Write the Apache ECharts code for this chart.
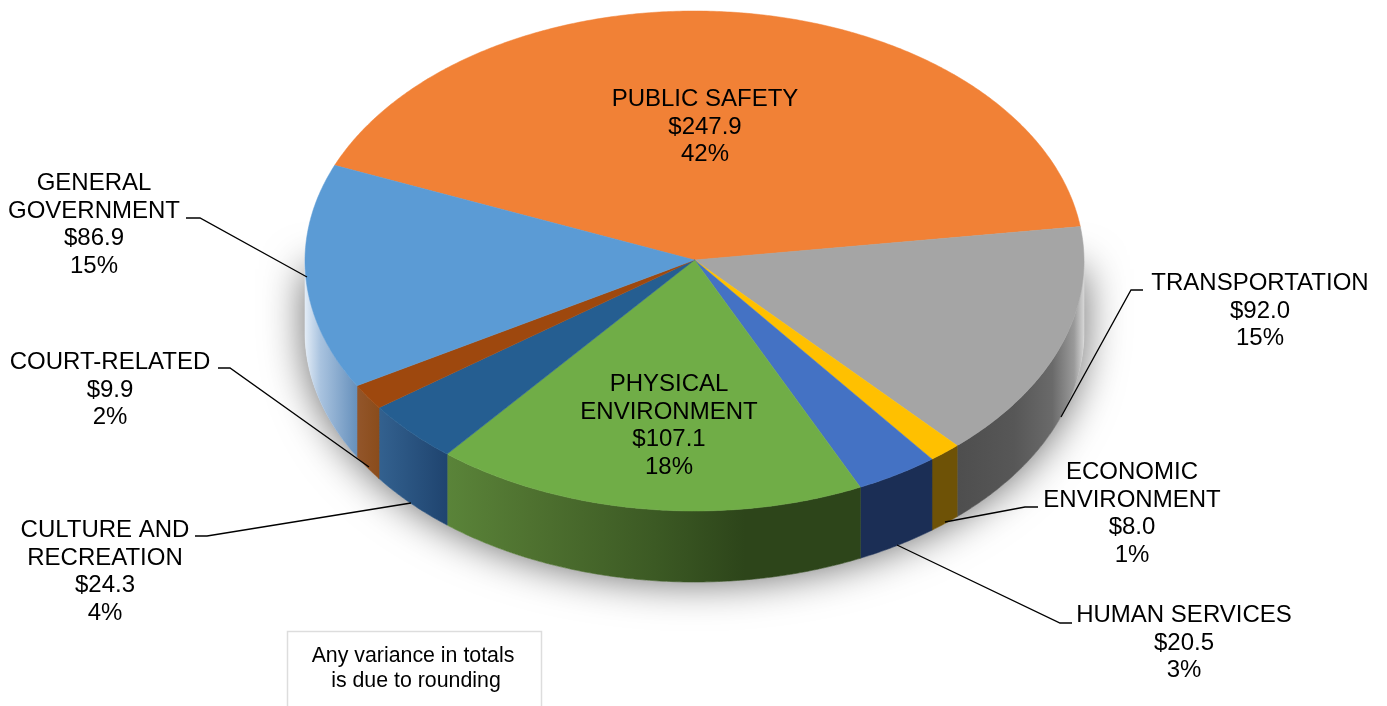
<!DOCTYPE html>
<html>
<head>
<meta charset="utf-8">
<style>html,body{margin:0;padding:0;background:#fff;overflow:hidden}#chart{width:1387px;height:706px}</style>
<script src="https://cdn.jsdelivr.net/npm/echarts@6/dist/echarts.min.js"></script>
</head>
<body>
<div id="chart"></div>
<script>
// ---- data ----
const categories = ['PUBLIC SAFETY','TRANSPORTATION','ECONOMIC\nENVIRONMENT','HUMAN SERVICES','PHYSICAL\nENVIRONMENT','CULTURE AND\nRECREATION','COURT-RELATED','GENERAL\nGOVERNMENT'];
const values = [247.9,92.0,8.0,20.5,107.1,24.3,9.9,86.9];
const percents = [42,15,1,3,18,4,2,15];
const noteText = 'Any variance in totals\n is due to rounding';

// ---- styles ----
const topColors = ['#F18136','#A5A5A5','#FFC000','#4472C4','#70AD47','#255E91','#9E480E','#5B9BD5'];
const wallStops = [
  [[0,'#A04F18'],[1,'#A04F18']],
  [[0,'#4E4E4E'],[0.45,'#575757'],[0.75,'#6A6A6A'],[0.92,'#9A9A9A'],[1,'#D8D8D8']],
  [[0,'#6E5206'],[1,'#6E5206']],
  [[0,'#1B2E55'],[1,'#1B2E55']],
  [[0,'#5A8439'],[0.2,'#4F7230'],[0.5,'#3C5A24'],[0.72,'#2D451A'],[1,'#2D451A']],
  [[0,'#33618F'],[1,'#1F446F']],
  [[0,'#93562B'],[1,'#8A4C1B']],
  [[0,'#E4EDF7'],[0.3,'#A9C3DF'],[1,'#6690BC']]
];

// ---- layout ----
const pie = {cx:694.5, cy:261, rx:389.5, ry:250, depth:71, start:292.5};
const fontFamily = '"Liberation Sans", Arial, sans-serif';
const labelPos = [[705,127],[1260,311],[1132,514],[1184,643],[669,426],[105,572],[110,390],[94,225]];
const leaders = [
  null,
  [[1143,290],[1131,290],[1061,417]],
  [[1038,507],[1025,507],[945,522]],
  [[1072,623],[1060,623],[897,545]],
  null,
  [[195,536],[207,536],[411,503]],
  [[218,368],[230,368],[369,467]],
  [[186,218],[200,218],[307,277]]
];

const total = values.reduce((a,b)=>a+b,0);
function pt(deg, dy){
  const t = deg*Math.PI/180;
  return [pie.cx+pie.rx*Math.sin(t), pie.cy-pie.ry*Math.cos(t)+(dy||0)];
}
function arc(a0,a1,dy){
  const n = Math.max(2,Math.ceil(Math.abs(a1-a0)*2)), out=[];
  for(let i=0;i<=n;i++) out.push(pt(a0+(a1-a0)*i/n,dy));
  return out;
}
function sliceRange(i){
  let before=0;
  for(let k=0;k<i;k++) before+=values[k];
  const a0=pie.start+before/total*360;
  return [a0, a0+values[i]/total*360];
}
function wallRange(a0,a1){
  // the front half of the drum is visible: angles 90..270 (modulo 360)
  for(const s of [0,360,-360]){
    const lo=Math.max(a0,90+s), hi=Math.min(a1,270+s);
    if(hi>lo) return [lo,hi];
  }
  return null;
}

function renderShadow(){
  const lower = arc(90,270,pie.depth);
  const pts = [[pie.cx+pie.rx,pie.cy+8]].concat(lower,[[pie.cx-pie.rx,pie.cy+8]]);
  return {type:'polygon',silent:true,shape:{points:pts},
    style:{fill:'#fff',shadowBlur:42,shadowColor:'rgba(0,0,0,0.6)'}};
}
function renderSlice(params){
  const i=params.dataIndex, r=sliceRange(i), children=[];
  const w=wallRange(r[0],r[1]);
  if(w){
    const pts=arc(w[0],w[1],0).concat(arc(w[1],w[0],pie.depth));
    const grad=new echarts.graphic.LinearGradient(0,0,1,0,wallStops[i].map(s=>({offset:s[0],color:s[1]})));
    children.push({type:'polygon',shape:{points:pts},style:{fill:grad,stroke:grad,lineWidth:0.6}});
  }
  const top=[[pie.cx,pie.cy-1]].concat(arc(r[0],r[1],0));
  children.push({type:'polygon',shape:{points:top},style:{fill:topColors[i],stroke:topColors[i],lineWidth:0.5}});
  return {type:'group',children};
}
function renderLabel(params,api){
  const i=params.dataIndex, children=[];
  const text=categories[i]+'\n$'+api.value(0).toFixed(1)+'\n'+percents[i]+'%';
  children.push({type:'text',style:{text,x:labelPos[i][0],y:labelPos[i][1],align:'center',verticalAlign:'middle',
    font:'24px '+fontFamily,lineHeight:27.7,fill:'#000'}});
  if(leaders[i]) children.push({type:'polyline',shape:{points:leaders[i]},style:{fill:null,stroke:'#000',lineWidth:1.3}});
  return {type:'group',children};
}

const data = values.map(v=>[v]);
const chart = echarts.init(document.getElementById('chart'),null,{renderer:'canvas'});
chart.setOption({
  animation:false,
  backgroundColor:'#fff',
  series:[
    {type:'custom',coordinateSystem:'none',z:1,silent:true,data:[[total]],renderItem:renderShadow},
    {type:'custom',coordinateSystem:'none',z:2,silent:true,data,renderItem:renderSlice},
    {type:'custom',coordinateSystem:'none',z:3,silent:true,data,renderItem:renderLabel}
  ],
  graphic:[
    {type:'rect',z:4,silent:true,shape:{x:287.5,y:631.5,width:254,height:90},style:{fill:'#fff',stroke:'#DDDDDD',lineWidth:1.5}},
    {type:'text',z:5,silent:true,style:{text:noteText,x:413,y:668.5,align:'center',verticalAlign:'middle',font:'21.33px '+fontFamily,lineHeight:25,fill:'#000'}}
  ]
});
</script>
</body>
</html>
